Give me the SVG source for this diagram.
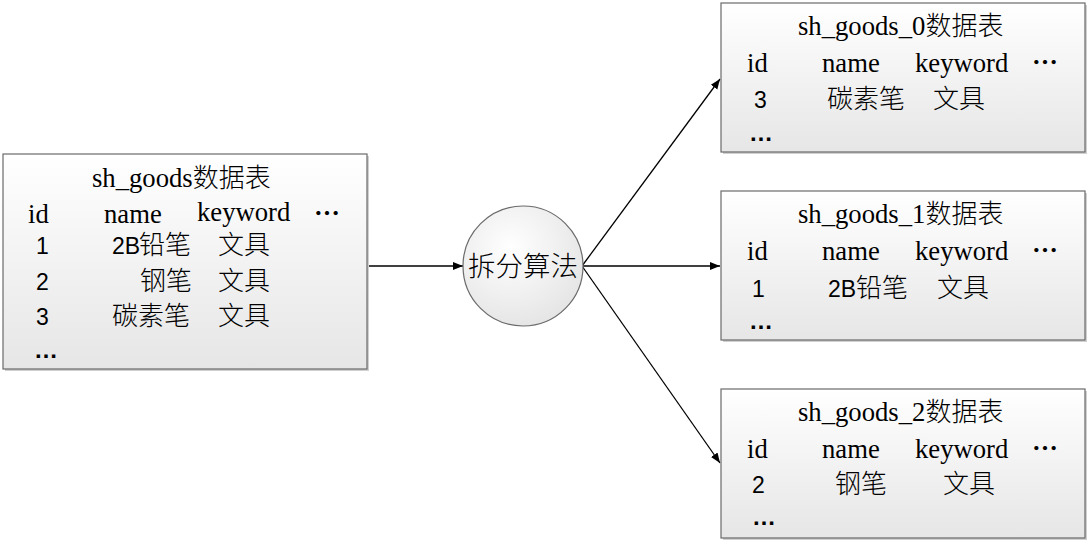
<svg xmlns="http://www.w3.org/2000/svg" width="1091" height="545" viewBox="0 0 1091 545">
<style>
.box{fill:url(#g);stroke:#6a6a6a;stroke-width:1.2}
.sh{fill:#d0d0d0}
.t{font-family:"Liberation Serif","Noto Sans CJK SC",serif;font-size:26.67px;fill:#000}
.t tspan{font-family:"Noto Sans CJK SC",sans-serif;font-weight:300;font-size:26px}
.d{font-family:"Liberation Sans","Noto Sans CJK SC",sans-serif;font-size:23px;fill:#000}
.e{font-family:"Liberation Sans",sans-serif;font-size:24px;font-weight:bold;fill:#000}
.c{font-family:"Noto Sans CJK SC",sans-serif;font-size:26px;font-weight:300;fill:#000}
.h{font-family:"Noto Sans CJK SC",sans-serif;font-size:26px;font-weight:bold;fill:#000}
.ln{stroke:#000;stroke-width:1.3;fill:none;marker-end:url(#ah)}
</style>
<defs>
<linearGradient id="g" x1="0" y1="0" x2="0" y2="1">
<stop offset="0" stop-color="#ffffff"/>
<stop offset="1" stop-color="#e6e6e6"/>
</linearGradient>
<radialGradient id="cg" cx="0.4" cy="0.35" r="0.7">
<stop offset="0" stop-color="#ffffff"/>
<stop offset="1" stop-color="#e4e4e4"/>
</radialGradient>
<marker id="ah" viewBox="0 0 10 10" refX="10" refY="5" markerWidth="10" markerHeight="10" markerUnits="userSpaceOnUse" orient="auto">
<path d="M0,1 L10,5 L0,9 Z" fill="#000"/>
</marker>
</defs>
<rect width="1091" height="545" fill="#fff"/>
<g id="connectors">
<line class="ln" x1="367" y1="266" x2="463" y2="266"/>
<line class="ln" x1="582" y1="266" x2="720" y2="79"/>
<line class="ln" x1="582" y1="266" x2="720" y2="266"/>
<line class="ln" x1="582" y1="266" x2="720" y2="463"/>
</g>
<g id="sh_goods">
<rect class="sh" x="5" y="156" width="364" height="215"/>
<rect class="box" x="3" y="154" width="364" height="215"/>
<text class="t" x="92" y="187">sh_goods<tspan>数据表</tspan></text>
<text class="t" x="28" y="223">id</text>
<text class="t" x="104" y="223">name</text>
<text class="t" x="197" y="221">keyword</text>
<text class="h" x="314" y="223">…</text>
<text class="d" x="36" y="254">1</text>
<text class="d" x="112" y="254">2B</text>
<text class="c" x="139" y="254">铅笔</text>
<text class="c" x="218" y="254">文具</text>
<text class="d" x="36" y="290">2</text>
<text class="c" x="140" y="290">钢笔</text>
<text class="c" x="218" y="290">文具</text>
<text class="d" x="36" y="325">3</text>
<text class="c" x="112" y="325">碳素笔</text>
<text class="c" x="218" y="325">文具</text>
<text class="e" x="34" y="358">…</text>
</g>
<g id="split">
<circle cx="523" cy="266" r="60" fill="url(#cg)" stroke="#6a6a6a" stroke-width="1.2"/>
<text class="c" x="523" y="276" text-anchor="middle" style="font-size:27.5px">拆分算法</text>
</g>
<g id="sh_goods_0">
<rect class="sh" x="723" y="5" width="364" height="149"/>
<rect class="box" x="721" y="3" width="364" height="149"/>
<text class="t" x="798" y="35">sh_goods_0<tspan>数据表</tspan></text>
<text class="t" x="747" y="72">id</text>
<text class="t" x="822" y="72">name</text>
<text class="t" x="915" y="72">keyword</text>
<text class="h" x="1032" y="72">…</text>
<text class="d" x="754" y="108">3</text>
<text class="c" x="827" y="108">碳素笔</text>
<text class="c" x="933" y="108">文具</text>
<text class="e" x="749" y="141">…</text>
</g>
<g id="sh_goods_1">
<rect class="sh" x="723" y="193" width="364" height="149"/>
<rect class="box" x="721" y="191" width="364" height="149"/>
<text class="t" x="798" y="223">sh_goods_1<tspan>数据表</tspan></text>
<text class="t" x="747" y="260">id</text>
<text class="t" x="822" y="260">name</text>
<text class="t" x="915" y="260">keyword</text>
<text class="h" x="1032" y="260">…</text>
<text class="d" x="752" y="297">1</text>
<text class="d" x="828" y="297">2B</text>
<text class="c" x="856" y="297">铅笔</text>
<text class="c" x="937" y="297">文具</text>
<text class="e" x="749" y="329">…</text>
</g>
<g id="sh_goods_2">
<rect class="sh" x="723" y="391" width="364" height="149"/>
<rect class="box" x="721" y="389" width="364" height="149"/>
<text class="t" x="798" y="421">sh_goods_2<tspan>数据表</tspan></text>
<text class="t" x="747" y="458">id</text>
<text class="t" x="822" y="458">name</text>
<text class="t" x="915" y="458">keyword</text>
<text class="h" x="1032" y="458">…</text>
<text class="d" x="752" y="493">2</text>
<text class="c" x="835" y="493">钢笔</text>
<text class="c" x="943" y="493">文具</text>
<text class="e" x="752" y="525">…</text>
</g>
</svg>
